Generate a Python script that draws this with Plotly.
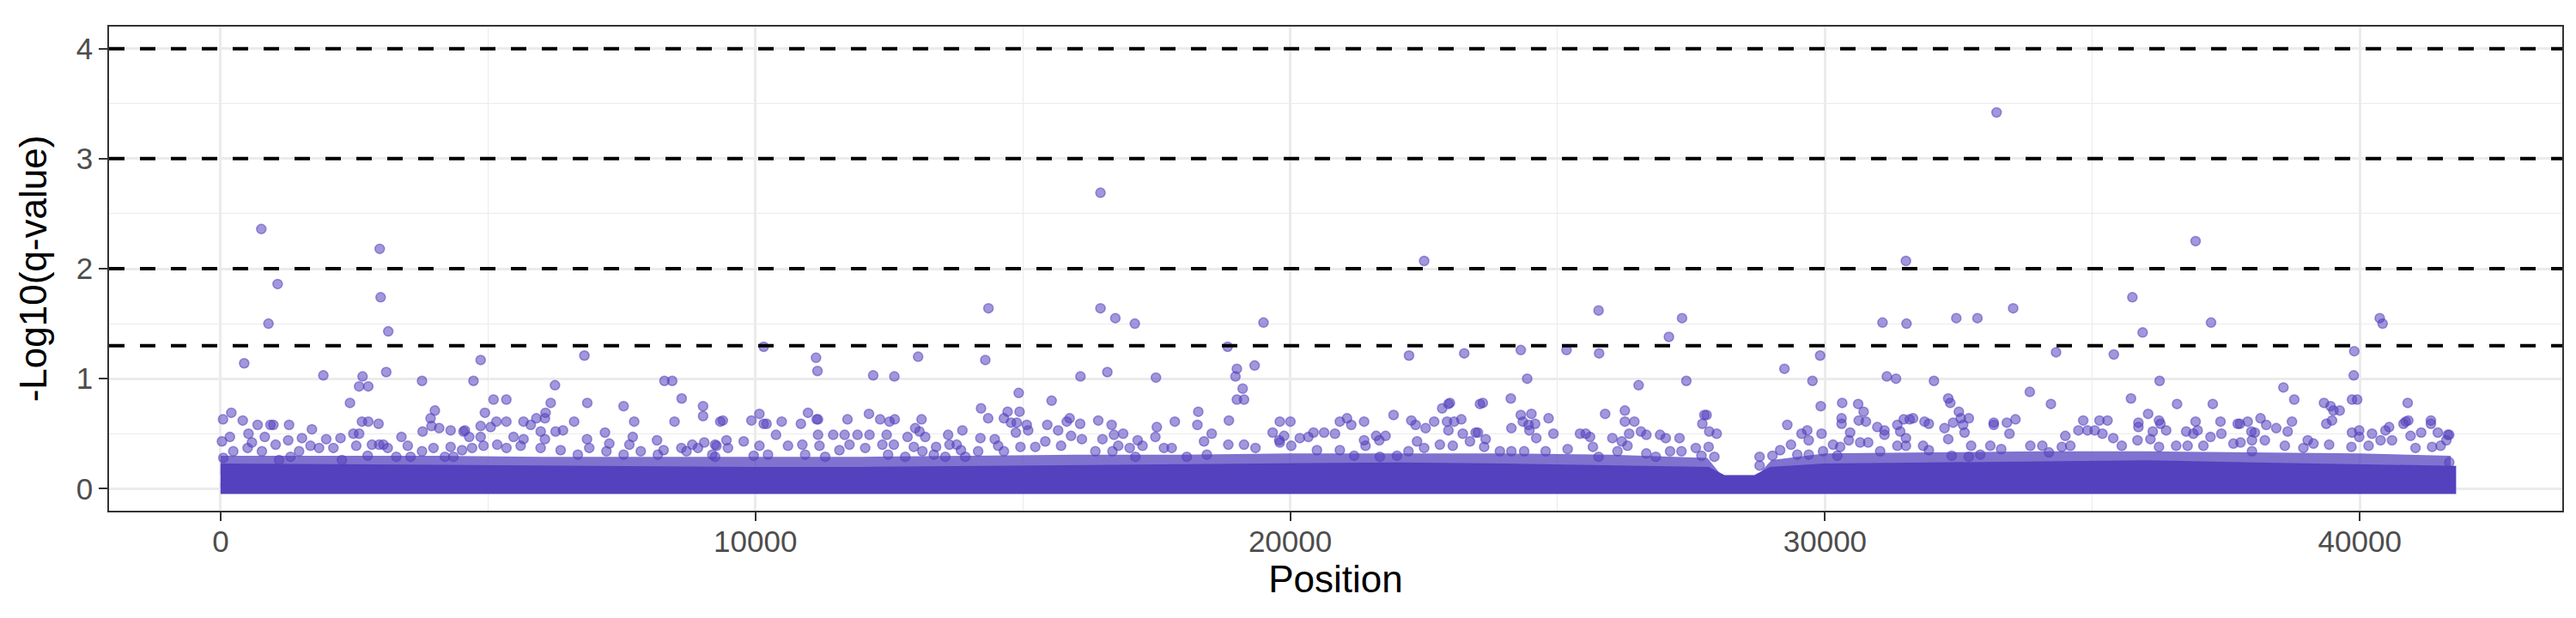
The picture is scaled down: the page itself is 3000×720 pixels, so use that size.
import plotly.graph_objects as go

# thresholds drawn as dashed lines (-log10 of q = 0.05, 0.01, 0.001, 0.0001)
thresholds = [1.3, 2, 3, 4]

# outline of the solid band of overlapping low points, and of the busy zone above it
band_pos = [0, 2000, 4000, 6000, 8000, 10000, 12000, 14000, 16000, 18000, 20000,
            22000, 24000, 26000, 27800, 28100, 28700, 29000, 30000, 32000, 34000,
            36000, 38000, 40000, 41700]
band_top = [0.18, 0.17, 0.16, 0.15, 0.15, 0.15, 0.15, 0.16, 0.17, 0.18, 0.19,
            0.19, 0.18, 0.17, 0.15, 0.075, 0.075, 0.15, 0.18, 0.19, 0.21,
            0.21, 0.19, 0.17, 0.16]
cloud_top = [0.30, 0.30, 0.30, 0.29, 0.29, 0.29, 0.29, 0.30, 0.31, 0.31, 0.32,
             0.32, 0.32, 0.31, 0.28, 0.10, 0.10, 0.26, 0.32, 0.33, 0.34,
             0.34, 0.33, 0.32, 0.30]

# individual sites standing out of the band
position = [
    # 0 - 4.6k
    762, 2976, 1067, 2993, 896, 3136, 442, 1922, 2655, 2591, 2762, 3098, 3767, 2420,
    201, 46, 415, 4007, 3927, 693, 933, 987, 1281, 1708, 2644, 2762, 2954, 3944,
    3778, 4542, 4088, 4302, 522, 175, 827, 1030, 1265, 1522, 1976, 2243, 2484, 2591,
    3382, 2831, 2965, 3045, 4302,
    26, 52, 238, 506, 586, 773, 1094, 1308, 1468, 1682, 1842, 2110, 2270, 2537,
    2751, 3125, 3286, 3500, 3553, 3767, 3981, 4195, 4355, 4515,
    # 4.6k - 9.3k
    4863, 6803, 4729, 6253, 8300, 8445, 5104, 5344, 8622, 6173, 6857, 7536, 9022, 9022,
    4943, 6077, 5905, 6065, 5157, 5344, 5665, 6611, 7734, 8488, 9344,
    4863, 5050, 5799, 5986, 6264, 6403, 4569, 7188, 4649, 4863, 5478, 5665, 6065, 6852,
    7707, 8161, 9044, 9246, 5173, 7269, 7644, 8616, 8820,
    4703, 4917, 5345, 5611, 5985, 6359, 6680, 6894, 7215, 7536, 7857, 8177, 8284, 8712,
    8926, 9194, 9247,
    # 9.3k - 14k
    10156, 11134, 11161, 12203, 12599, 13043, 10984, 10075, 9391, 9926, 10156, 10209,
    10492, 10851, 11145, 11172, 11722, 12124, 12333, 12509, 12606, 13107, 12989, 13069,
    13176, 13871, 10386, 11172, 11455, 11669, 11910, 12134, 12455, 12845, 13604, 9782,
    9460,
    10076, 10878, 11199, 11760, 12375, 12589, 12963, 13379, 13630, 13764, 13844, 9274,
    9488, 9969, 10236, 10610, 10931, 11305, 11572, 12054, 12481, 12802, 13123, 13337,
    13551, 13925,
    # 14k - 18.8k
    16453, 14358, 16453, 16731, 17095, 18830, 14299, 16078, 16581, 17490, 14924, 15539,
    14219, 14353, 14647, 14716, 14940, 14780, 14887, 15074, 15101, 14871, 15876, 15822,
    15458, 15661, 16073, 16411, 16662, 16876, 16705, 17506, 17479, 17843, 18282, 18265,
    18532, 18389, 14208, 14476, 14540, 14165, 14647, 15903, 16105, 16490, 16785, 16999,
    17148, 17239, 17640, 17784, 14956, 15234, 15421, 15716, 16357, 16677, 17106, 18067,
    18442,
    # 18.8k - 23.6k
    22505, 19501, 22222, 23254, 19003, 18977, 19335, 19111, 19003, 19137, 18854, 19806,
    20004, 19672, 19886, 19795, 20180, 20340, 20436, 20634, 20837, 20928, 21062, 21142,
    21382, 21933, 22265, 22345, 22532, 22692, 22842, 22959, 22986, 22933, 22959, 23066,
    23200, 23548, 23227, 23361, 23468, 21607, 21783, 21666, 21382, 21409, 22372, 22505,
    22211, 22799, 23040, 18843, 19137, 19351, 19806, 20020, 20500, 20928, 21195, 21676,
    21997,
    # 23.6k - 28k
    25766, 27327, 27081, 24312, 25167, 25776, 24431, 26515, 27407, 23601, 24125, 24312,
    24510, 24350, 24457, 24580, 24473, 24601, 24831, 24136, 24922, 25889, 26258, 26258,
    26435, 26338, 26558, 26659, 26916, 27022, 27279, 27744, 27786, 27706, 27835, 27974,
    23510, 23655, 25419, 25526, 25607, 25660, 26024, 26200, 26306, 26120, 23627, 23921,
    24135, 24375, 24776, 25188, 25766, 26659, 26836, 27103, 27316, 27584, 27690, 27824,
    27931,
    # 28k - 33k
    31513, 31075, 31524, 32455, 32850, 29909, 29241, 29765, 31156, 31327, 32037, 29920,
    30321, 30620, 30722, 30310, 30310, 30631, 30764, 29295, 32304, 32342, 32502, 32689,
    32539, 31353, 31471, 31583, 31647, 31861, 31941, 32235, 32395, 32582, 32609, 30978,
    31112, 31112, 29561, 29668, 29695, 29935, 30470, 30444, 31406, 31513, 32304, 29364,
    29161, 29017, 28777, 28777, 30150, 30283, 30658, 30807, 31032, 31834, 31941, 32732,
    32689, 29482, 29696, 29963, 30230, 31353, 31513, 32369, 32903,
    # 33k - 37.7k
    33208, 36929, 33518, 35747, 35939, 37218, 34320, 35400, 36256, 33829, 34224, 35721,
    36582, 37250, 33155, 33155, 33401, 33561, 33449, 34828, 34738, 34909, 35043, 35132,
    35282, 35187, 35860, 35860, 36042, 36245, 36272, 36379, 36128, 36085, 36929, 36967,
    36887, 36753, 37395, 37411, 37208, 37716, 34493, 34063, 33839, 33294, 33091, 34187,
    34427, 34587, 35389, 35549, 35843, 36245, 36566, 36780, 37075, 37636,
    # 37.7k - end
    40372, 40426, 39896, 39886, 39854, 39950, 38571, 38774, 40895, 39330, 39453, 39507,
    39624, 39373, 39480, 37758, 37903, 38143, 38250, 38437, 38731, 38651, 37972, 38036,
    37983, 39854, 39988, 39988, 40228, 40479, 40548, 40388, 40602, 40816, 40858, 40906,
    40949, 41147, 41329, 41329, 41458, 41645, 41672, 41618, 39026, 39133, 38945, 38224,
    38598, 39426, 39843, 40164, 41041, 41351, 41511, 41672, 37983, 37769,
]
neg_log_q = [
    # 0 - 4.6k
    2.36, 2.18, 1.86, 1.74, 1.50, 1.43, 1.14, 1.03, 1.02, 0.93, 0.93, 1.06, 0.98, 0.78,
    0.69, 0.63, 0.62, 0.71, 0.64, 0.58, 0.58, 0.58, 0.58, 0.54, 0.61, 0.61, 0.59, 0.57,
    0.52, 0.52, 0.55, 0.53, 0.50, 0.47, 0.47, 0.40, 0.44, 0.46, 0.45, 0.46, 0.50, 0.50,
    0.47, 0.40, 0.40, 0.40, 0.38,
    0.43, 0.28, 0.34, 0.37, 0.42, 0.34, 0.26, 0.29, 0.34, 0.39, 0.37, 0.37, 0.26, 0.39,
    0.30, 0.37, 0.29, 0.39, 0.29, 0.34, 0.37, 0.29, 0.29, 0.35,
    # 4.6k - 9.3k
    1.17, 1.21, 0.98, 0.94, 0.98, 0.98, 0.81, 0.81, 0.82, 0.78, 0.78, 0.75, 0.75, 0.66,
    0.69, 0.69, 0.64, 0.64, 0.61, 0.61, 0.61, 0.61, 0.61, 0.61, 0.61,
    0.57, 0.56, 0.58, 0.52, 0.52, 0.53, 0.53, 0.51, 0.47, 0.47, 0.47, 0.45, 0.45, 0.45,
    0.47, 0.44, 0.42, 0.40, 0.40, 0.41, 0.40, 0.37, 0.40,
    0.37, 0.39, 0.37, 0.39, 0.37, 0.35, 0.31, 0.37, 0.34, 0.31, 0.34, 0.31, 0.35, 0.34,
    0.37, 0.31, 0.29,
    # 9.3k - 14k
    1.29, 1.19, 1.07, 1.03, 1.02, 1.20, 0.69, 0.68, 0.62, 0.62, 0.59, 0.59,
    0.61, 0.59, 0.63, 0.63, 0.63, 0.68, 0.63, 0.61, 0.63, 0.63, 0.55, 0.52,
    0.47, 0.53, 0.49, 0.49, 0.49, 0.49, 0.49, 0.49, 0.49, 0.47, 0.49, 0.43,
    0.44,
    0.39, 0.40, 0.39, 0.40, 0.40, 0.40, 0.38, 0.38, 0.40, 0.40, 0.35, 0.39,
    0.37, 0.30, 0.31, 0.39, 0.31, 0.29, 0.35, 0.37, 0.31, 0.29, 0.34, 0.31,
    0.29, 0.29,
    # 14k - 18.8k
    2.69, 1.64, 1.64, 1.55, 1.50, 1.29, 1.17, 1.02, 1.06, 1.01, 0.87, 0.80,
    0.73, 0.64, 0.64, 0.70, 0.70, 0.60, 0.60, 0.58, 0.53, 0.51, 0.64, 0.61,
    0.58, 0.53, 0.59, 0.62, 0.58, 0.50, 0.49, 0.56, 0.47, 0.61, 0.70, 0.58,
    0.50, 0.43, 0.46, 0.45, 0.39, 0.34, 0.34, 0.48, 0.45, 0.45, 0.39, 0.37,
    0.44, 0.39, 0.37, 0.37, 0.38, 0.38, 0.43, 0.39, 0.34, 0.34, 0.29, 0.29,
    0.31,
    # 18.8k - 23.6k
    2.07, 1.51, 1.21, 1.23, 1.09, 1.02, 1.12, 0.91, 0.81, 0.81, 0.62, 0.61,
    0.61, 0.51, 0.48, 0.44, 0.46, 0.47, 0.51, 0.51, 0.50, 0.61, 0.64, 0.58,
    0.61, 0.67, 0.62, 0.58, 0.55, 0.61, 0.73, 0.77, 0.78, 0.61, 0.53, 0.61,
    0.63, 0.77, 0.50, 0.43, 0.51, 0.48, 0.48, 0.44, 0.44, 0.39, 0.43, 0.37,
    0.34, 0.40, 0.39, 0.40, 0.40, 0.37, 0.42, 0.39, 0.35, 0.35, 0.30, 0.29,
    0.30,
    # 23.6k - 28k
    1.62, 1.55, 1.38, 1.26, 1.26, 1.23, 1.00, 0.94, 0.98, 0.78, 0.82, 0.67,
    0.68, 0.61, 0.58, 0.59, 0.53, 0.46, 0.64, 0.55, 0.50, 0.68, 0.71, 0.61,
    0.61, 0.50, 0.52, 0.49, 0.49, 0.46, 0.46, 0.67, 0.67, 0.59, 0.52, 0.50,
    0.51, 0.45, 0.50, 0.50, 0.47, 0.38, 0.46, 0.43, 0.39, 0.34, 0.38, 0.34,
    0.34, 0.34, 0.34, 0.36, 0.29, 0.32, 0.29, 0.34, 0.34, 0.37, 0.30, 0.38,
    0.29,
    # 28k - 33k
    2.07, 1.51, 1.50, 1.55, 1.55, 1.21, 1.09, 0.98, 1.02, 1.00, 0.98, 0.75,
    0.78, 0.77, 0.70, 0.64, 0.59, 0.62, 0.61, 0.58, 0.82, 0.78, 0.70, 0.64,
    0.64, 0.58, 0.63, 0.63, 0.64, 0.61, 0.59, 0.55, 0.60, 0.58, 0.51, 0.56,
    0.53, 0.49, 0.50, 0.53, 0.44, 0.50, 0.51, 0.44, 0.52, 0.46, 0.45, 0.40,
    0.35, 0.30, 0.29, 0.21, 0.40, 0.38, 0.42, 0.42, 0.34, 0.39, 0.35, 0.39,
    0.29, 0.31, 0.31, 0.34, 0.30, 0.39, 0.39, 0.30, 0.31,
    # 33k - 37.7k
    3.42, 2.25, 1.64, 1.74, 1.42, 1.51, 1.24, 1.22, 0.98, 0.88, 0.77, 0.82,
    0.77, 0.77, 0.60, 0.58, 0.60, 0.63, 0.50, 0.62, 0.53, 0.53, 0.53, 0.62,
    0.62, 0.50, 0.60, 0.56, 0.68, 0.62, 0.59, 0.53, 0.52, 0.45, 0.61, 0.53,
    0.50, 0.52, 0.61, 0.50, 0.47, 0.59, 0.48, 0.39, 0.39, 0.36, 0.39, 0.33,
    0.38, 0.39, 0.46, 0.39, 0.44, 0.38, 0.39, 0.39, 0.39, 0.41,
    # 37.7k - end
    1.55, 1.50, 1.25, 1.03, 0.81, 0.81, 0.92, 0.81, 0.78, 0.78, 0.75, 0.71,
    0.71, 0.59, 0.62, 0.59, 0.61, 0.64, 0.58, 0.55, 0.61, 0.52, 0.52, 0.51,
    0.44, 0.51, 0.53, 0.47, 0.50, 0.53, 0.56, 0.44, 0.44, 0.59, 0.61, 0.62,
    0.48, 0.51, 0.62, 0.59, 0.51, 0.49, 0.49, 0.44, 0.44, 0.41, 0.37, 0.44,
    0.39, 0.40, 0.38, 0.39, 0.37, 0.38, 0.39, 0.24, 0.34, 0.42,
]

POINT = "rgba(83,65,190,0.55)"
SOLID = "#5341BE"
FONT = "Liberation Sans, Arial, sans-serif"

# busy zone of half-overlapping points, drawn as a translucent area
cloud = go.Scatter(
    x=band_pos + band_pos[::-1],
    y=cloud_top + band_top[::-1],
    mode="lines",
    fill="toself",
    fillcolor="rgba(83,65,190,0.74)",
    line=dict(width=0),
    hoverinfo="skip",
)
band = go.Scatter(
    x=band_pos + band_pos[::-1],
    y=band_top + [0] * len(band_pos),
    mode="lines",
    fill="toself",
    fillcolor=SOLID,
    line=dict(color=SOLID, width=12.5),
    hoverinfo="skip",
)
sites = go.Scatter(
    x=position,
    y=neg_log_q,
    mode="markers",
    marker=dict(size=11, color=POINT, line=dict(color=POINT, width=1.5)),
)

fig = go.Figure(data=[cloud, band, sites])
for t in thresholds:
    fig.add_shape(
        type="line", xref="paper", x0=0, x1=1, y0=t, y1=t,
        line=dict(color="black", width=4, dash="18px,18px"),
    )

axis_common = dict(
    showgrid=True,
    gridcolor="#EBEBEB",
    gridwidth=2.7,
    zeroline=False,
    showline=True,
    mirror=True,
    linecolor="#333333",
    linewidth=1.5,
    ticks="outside",
    ticklen=10,
    tickwidth=2,
    tickcolor="#333333",
    tickfont=dict(family=FONT, size=35, color="#4D4D4D"),
)

fig.update_layout(
    width=3000,
    height=720,
    showlegend=False,
    paper_bgcolor="white",
    plot_bgcolor="white",
    margin=dict(l=119, r=24, t=23, b=133),
    font=dict(family=FONT),
    xaxis=dict(
        range=[-2085, 43785],
        tickvals=[0, 10000, 20000, 30000, 40000],
        tickformat="d",
        ticklabelstandoff=-6,
        minor=dict(dtick=5000, tick0=0, showgrid=True, gridcolor="#EBEBEB", gridwidth=1.4),
        title=dict(text="Position", font=dict(family=FONT, size=44, color="black"), standoff=4),
        **axis_common,
    ),
    yaxis=dict(
        range=[-0.2, 4.2],
        tickvals=[0, 1, 2, 3, 4],
        minor=dict(dtick=0.5, tick0=0, showgrid=True, gridcolor="#EBEBEB", gridwidth=1.4),
        title=dict(text="-Log10(q-value)", font=dict(family=FONT, size=44, color="black"), standoff=20),
        **axis_common,
    ),
)

fig.write_html("out.html")
